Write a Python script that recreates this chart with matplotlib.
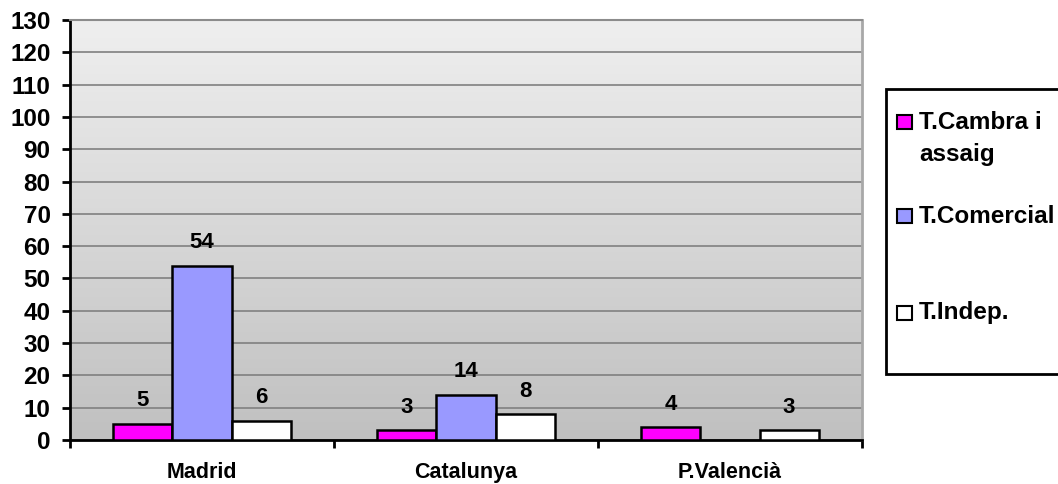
import numpy as np
import matplotlib
matplotlib.use("Agg")
import matplotlib.pyplot as plt
from matplotlib.patches import Rectangle

plt.rcParams['font.family'] = ['Liberation Sans', 'DejaVu Sans']
plt.rcParams['font.weight'] = 'bold'

# Data per region
regions = ['Madrid', 'Catalunya', 'P.Valencià']
series = ['T.Cambra i\nassaig', 'T.Comercial', 'T.Indep.']
cambra = [5, 3, 4]
comercial = [54, 14, np.nan]
indep = [6, 8, 3]
colors = ['#ff00ff', '#9999ff', '#ffffff']

fig = plt.figure(figsize=(10.58, 4.84), dpi=100)
ax = fig.add_axes([70 / 1058, 44 / 484, 792 / 1058, 420 / 484])

# grey gradient behind the bars
grad = np.linspace(0, 1, 256).reshape(-1, 1)
ax.imshow(grad, cmap=matplotlib.colors.LinearSegmentedColormap.from_list(
    'bg', ['#efefef', '#c0c0c0']), extent=[0, 1, 0, 1],
    transform=ax.transAxes, aspect='auto', zorder=0)

x = np.arange(len(regions))
w = 0.2235
for i, (vals, c) in enumerate(zip([cambra, comercial, indep], colors)):
    pos = x + (i - 1) * w
    ax.bar(pos, vals, w, color=c, edgecolor='black', linewidth=1.8, zorder=3)
    for p, v in zip(pos, vals):
        if np.isnan(v):
            continue
        ax.annotate(f'{v:g}', (p, v), xytext=(0, 16.5), textcoords='offset points',
                    ha='center', va='center', fontsize=16, fontweight='bold')

ax.set_xlim(-0.5, 2.5)
ax.set_ylim(0, 130)
ax.set_yticks(range(0, 131, 10))
ax.yaxis.grid(True, color='#808080', linewidth=1.2, zorder=1)
ax.set_axisbelow(True)

# category boundaries as major ticks, names as minor ticks
ax.set_xticks([-0.5, 0.5, 1.5, 2.5])
ax.set_xticklabels([])
ax.set_xticks(x, minor=True)
ax.set_xticklabels(regions, minor=True)
ax.tick_params(axis='x', which='major', length=6, width=2, direction='out')
ax.tick_params(axis='x', which='minor', length=0, pad=16, labelsize=15.5)
ax.tick_params(axis='y', length=6, width=2, pad=8, labelsize=17.5)

for s in ['left', 'bottom']:
    ax.spines[s].set_linewidth(2)
    ax.spines[s].set_color('black')
ax.spines['top'].set_color('#8c8c8c')
ax.spines['top'].set_linewidth(1.5)
ax.spines['right'].set_color('#a8a8a8')
ax.spines['right'].set_linewidth(2)

# legend box, running off the right edge
W, H = 1058, 484
fig.add_artist(Rectangle((886 / W, 1 - 374 / H), 200 / W, 285 / H,
                         transform=fig.transFigure, facecolor='white',
                         edgecolor='black', linewidth=2))
centers = [122, 216, 313]
for lab, c, yc in zip(series, colors, centers):
    fig.add_artist(Rectangle((897 / W, 1 - (yc + 7) / H), 15 / W, 14 / H,
                             transform=fig.transFigure, facecolor=c,
                             edgecolor='black', linewidth=1.5))
    if '\n' in lab:
        fig.text(919 / W, 1 - (yc - 11) / H, lab, ha='left', va='top',
                 fontsize=17.5, fontweight='bold', linespacing=1.5)
    else:
        fig.text(919 / W, 1 - yc / H, lab, ha='left', va='center',
                 fontsize=17.5, fontweight='bold')

fig.savefig('out.png', dpi=100)
